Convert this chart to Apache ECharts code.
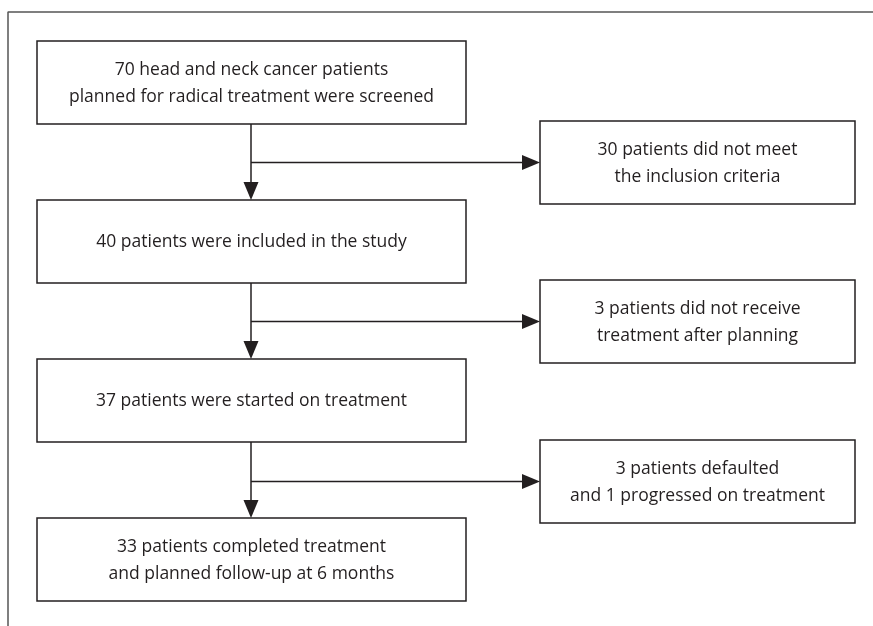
<!DOCTYPE html>
<html>
<head>
<meta charset="utf-8">
<script src="https://cdn.jsdelivr.net/npm/echarts@6/dist/echarts.min.js"></script>
<style>
  html, body { margin: 0; padding: 0; background: #fff; }
  #chart { width: 873px; height: 626px; }
</style>
</head>
<body>
<div id="chart"></div>
<script>
// flow steps (left column) and exclusions (right column)
const mainLabels = [
  "70 head and neck cancer patients\nplanned for radical treatment were screened",
  "40 patients were included in the study",
  "37 patients were started on treatment",
  "33 patients completed treatment\nand planned follow-up at 6 months",
];
const sideLabels = [
  "30 patients did not meet\nthe inclusion criteria",
  "3 patients did not receive\ntreatment after planning",
  "3 patients defaulted\nand 1 progressed on treatment",
];
// box rows in chart units (y grows downward)
const mainTop = [41, 200, 359, 518];
const sideTop = [121, 280, 440];
const boxHeight = 83;
const mainX = [37, 466];
const sideX = [540, 855];
const trunkX = 251;

const ink = "#231f20";

const boxData = [
  ...mainTop.map((t, i) => [mainX[0], t, mainX[1], t + boxHeight, mainLabels[i]]),
  ...sideTop.map((t, i) => [sideX[0], t, sideX[1], t + boxHeight, sideLabels[i]]),
];

// one connector per step: vertical trunk + branch to the side box
const linkData = sideTop.map((t, i) => [
  trunkX,
  mainTop[i] + boxHeight,
  mainTop[i + 1],
  t + boxHeight / 2,
  sideX[0],
]);

const chart = echarts.init(document.getElementById("chart"));

chart.setOption({
  animation: false,
  grid: { left: 0, right: 0, top: 0, bottom: 0 },
  xAxis: { type: "value", min: 0, max: 873, show: false },
  yAxis: { type: "value", min: 0, max: 626, inverse: true, show: false },
  series: [
    {
      // outer frame (top and left edges only)
      type: "line",
      data: [[873, 12], [8, 12], [8, 626]],
      symbol: "none",
      lineStyle: { color: "#555", width: 1.5 },
      silent: true,
    },
    {
      type: "custom",
      data: linkData,
      renderItem: (params, api) => {
        const x = api.value(0);
        const top = api.coord([x, api.value(1)]);
        const bot = api.coord([x, api.value(2)]);
        const branch = api.coord([x, api.value(3)]);
        const end = api.coord([api.value(4), api.value(3)]);
        const style = { stroke: ink, lineWidth: 1.5, fill: null };
        return {
          type: "group",
          children: [
            { type: "line", shape: { x1: top[0], y1: top[1], x2: bot[0], y2: bot[1] - 16 }, style },
            { type: "line", shape: { x1: branch[0], y1: branch[1], x2: end[0] - 16, y2: end[1] }, style },
            {
              type: "polygon",
              shape: { points: [[bot[0] - 7.5, bot[1] - 18], [bot[0] + 7.5, bot[1] - 18], [bot[0], bot[1]]] },
              style: { fill: ink },
            },
            {
              type: "polygon",
              shape: { points: [[end[0] - 18, end[1] - 7.5], [end[0] - 18, end[1] + 7.5], [end[0], end[1]]] },
              style: { fill: ink },
            },
          ],
        };
      },
    },
    {
      type: "custom",
      data: boxData,
      renderItem: (params, api) => {
        const p0 = api.coord([api.value(0), api.value(1)]);
        const p1 = api.coord([api.value(2), api.value(3)]);
        const label = boxData[params.dataIndex][4];
        return {
          type: "group",
          children: [
            {
              type: "rect",
              shape: { x: p0[0], y: p0[1], width: p1[0] - p0[0], height: p1[1] - p0[1] },
              style: { fill: "#fff", stroke: ink, lineWidth: 1.5 },
            },
            {
              type: "text",
              x: (p0[0] + p1[0]) / 2,
              y: (p0[1] + p1[1]) / 2 + 1,
              style: {
                text: label,
                fill: ink,
                font: "17.5px 'Open Sans', sans-serif",
                align: "center",
                verticalAlign: "middle",
                lineHeight: 27,
              },
            },
          ],
        };
      },
    },
  ],
});
</script>
</body>
</html>
